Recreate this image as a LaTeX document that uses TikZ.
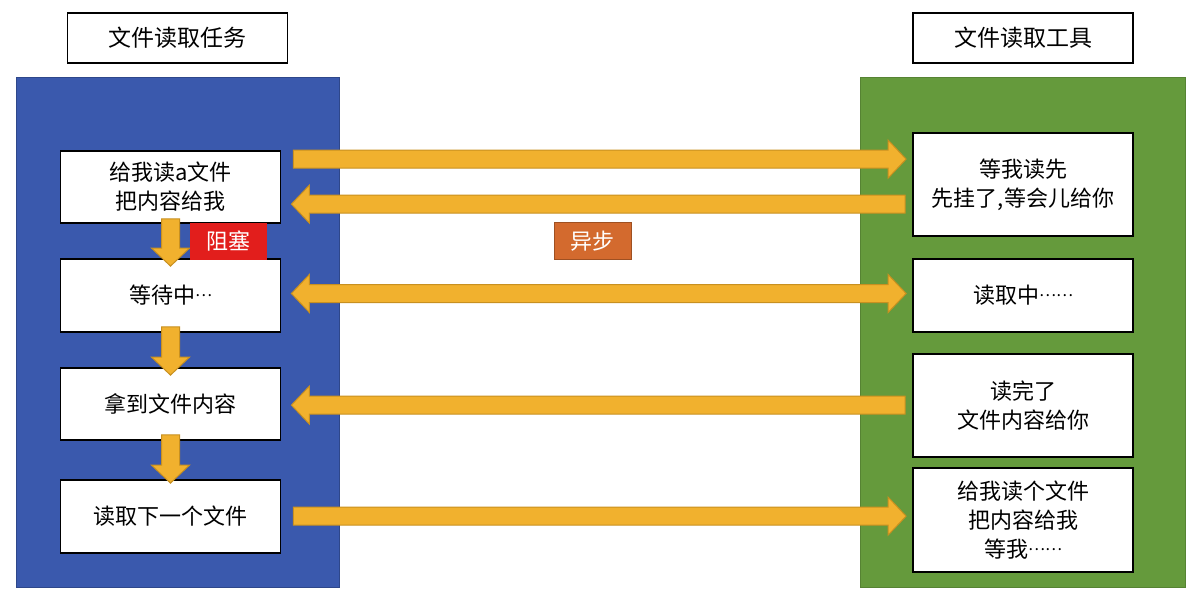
\documentclass[tikz,border=0pt]{standalone}
\usepackage{fontspec}
\setmainfont{Noto Sans CJK SC}
\usepackage{tikz}
\usetikzlibrary{calc}

\definecolor{taskblue}{RGB}{58,89,173}
\definecolor{toolgreen}{RGB}{101,154,60}
\definecolor{arrowfill}{RGB}{241,177,46}
\definecolor{arrowedge}{RGB}{200,144,32}
\definecolor{blockred}{RGB}{226,30,28}
\definecolor{asyncorange}{RGB}{211,106,46}

% centred ellipsis dots
\newcommand\middots[1]{\raisebox{3.6pt}{\fontsize{8}{8}\selectfont #1}}

\tikzset{
	fat arrow/.style={fill=arrowfill, draw=arrowedge, line width=0.5pt, line join=miter,
		to path={let \p1=(\tikztostart), \p2=(\tikztotarget),
			\n1={veclen(\x2-\x1,\y2-\y1)}, \n2={(\x2-\x1)/\n1}, \n3={(\y2-\y1)/\n1} in
			(\x1-\n3*4.5pt,\y1+\n2*4.5pt)
			-- (\x2-\n2*9pt-\n3*4.5pt,\y2-\n3*9pt+\n2*4.5pt)
			-- (\x2-\n2*9pt-\n3*9.5pt,\y2-\n3*9pt+\n2*9.5pt)
			-- (\x2,\y2)
			-- (\x2-\n2*9pt+\n3*9.5pt,\y2-\n3*9pt-\n2*9.5pt)
			-- (\x2-\n2*9pt+\n3*4.5pt,\y2-\n3*9pt-\n2*4.5pt)
			-- (\x1+\n3*4.5pt,\y1-\n2*4.5pt) -- cycle}},
	fat double/.style={fill=arrowfill, draw=arrowedge, line width=0.5pt, line join=miter,
		to path={let \p1=(\tikztostart), \p2=(\tikztotarget),
			\n1={veclen(\x2-\x1,\y2-\y1)}, \n2={(\x2-\x1)/\n1}, \n3={(\y2-\y1)/\n1} in
			(\x1,\y1)
			-- (\x1+\n2*9pt-\n3*9.5pt,\y1+\n3*9pt+\n2*9.5pt)
			-- (\x1+\n2*9pt-\n3*4.5pt,\y1+\n3*9pt+\n2*4.5pt)
			-- (\x2-\n2*9pt-\n3*4.5pt,\y2-\n3*9pt+\n2*4.5pt)
			-- (\x2-\n2*9pt-\n3*9.5pt,\y2-\n3*9pt+\n2*9.5pt)
			-- (\x2,\y2)
			-- (\x2-\n2*9pt+\n3*9.5pt,\y2-\n3*9pt-\n2*9.5pt)
			-- (\x2-\n2*9pt+\n3*4.5pt,\y2-\n3*9pt-\n2*4.5pt)
			-- (\x1+\n2*9pt+\n3*4.5pt,\y1+\n3*9pt-\n2*4.5pt)
			-- (\x1+\n2*9pt+\n3*9.5pt,\y1+\n3*9pt-\n2*9.5pt) -- cycle}}
}

\begin{document}
\begin{tikzpicture}[x=0.5pt,y=-0.5pt,
	box/.style={draw, fill=white, line width=0.9pt, inner sep=0pt, minimum width=110pt,
		align=center, font=\fontsize{11}{14.5}\selectfont},
	panel/.style={inner sep=0pt, line width=0.4pt},
	tag/.style={inner sep=0pt, minimum width=38.5pt, minimum height=18.5pt,
		text=white, font=\fontsize{11}{13}\selectfont}]
	\useasboundingbox (0,0) rectangle (1197,599);

	% panels
	\node[panel, fill=taskblue, draw=taskblue!80!black, minimum width=161.75pt, minimum height=255pt] (task) at (177.75,332) {};
	\node[panel, fill=toolgreen, draw=toolgreen!85!black, minimum width=162.5pt, minimum height=255pt] (tool) at (1023,332) {};

	% titles
	\node[box, minimum height=25pt, font=\fontsize{11.5}{14}\selectfont] (tasktitle) at (177.5,38) {文件读取任务};
	\node[box, minimum height=25pt, font=\fontsize{11.5}{14}\selectfont] (tooltitle) at (1023,38) {文件读取工具};

	% task side
	\node[box, minimum height=36pt] (b1) at (170.5,187) {给我读a文件\\把内容给我};
	\node[box, minimum height=36.5pt] (b2) at (170.5,295.5) {等待中\middots{…}};
	\node[box, minimum height=36pt] (b3) at (170.5,404) {拿到文件内容};
	\node[box, minimum height=36.5pt] (b4) at (170.5,516.5) {读取下一个文件};

	% tool side
	\node[box, minimum height=51.5pt] (r1) at (1023,184.5) {等我读先\\先挂了,等会儿给你};
	\node[box, minimum height=36.5pt] (r2) at (1023,295.5) {读取中\middots{……}};
	\node[box, minimum height=51.5pt] (r3) at (1023,405.5) {读完了\\文件内容给你};
	\node[box, minimum height=52pt] (r4) at (1023,520) {给我读个文件\\把内容给我\\等我\middots{……}};

	% flow inside task
	\draw[fat arrow] ($(b1.south)+(0,-5)$) to ($(b2.north)+(0,8)$);
	\draw[fat arrow] ($(b2.south)+(0,-6)$) to ($(b3.north)+(0,8)$);
	\draw[fat arrow] ($(b3.south)+(0,-6)$) to ($(b4.north)+(0,4)$);

	% messages
	\draw[fat arrow] ($(b1.north east)+(12,9)$) to ($(r1.north west)+(-6,27)$);
	\draw[fat arrow] ($(r1.north west)+(-7,72)$) to ($(b1.north east)+(10,54)$);
	\draw[fat double] ($(b2.east)+(10,-2)$) to ($(r2.west)+(-6,-2)$);
	\draw[fat arrow] ($(r3.north west)+(-7,52)$) to ($(b3.north east)+(10,38)$);
	\draw[fat arrow] ($(b4.north east)+(12,37)$) to ($(r4.north west)+(-6,49)$);

	% tags
	\node[tag, fill=blockred] (block) at (228.5,241.5) {阻塞};
	\node[tag, fill=asyncorange, draw=asyncorange!75!black, line width=0.5pt] (async) at (592.5,241) {异步};
\end{tikzpicture}
\end{document}
